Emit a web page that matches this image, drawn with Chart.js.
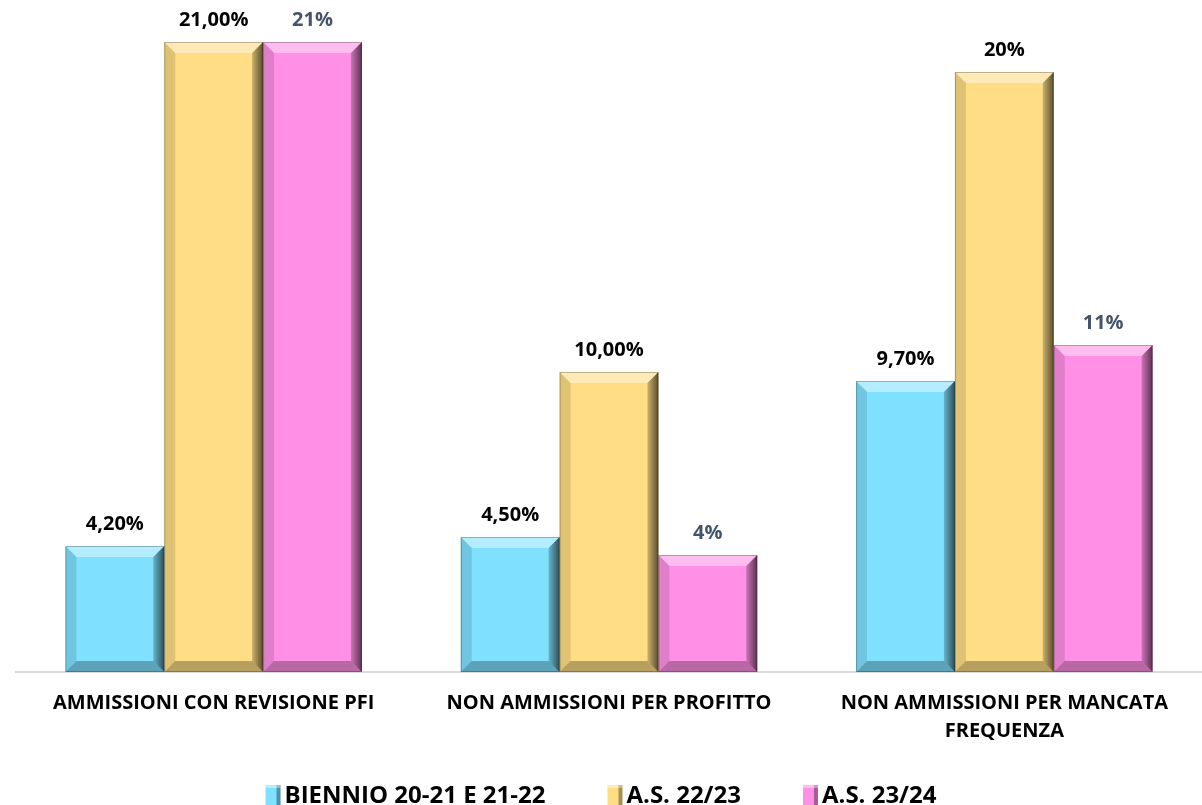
<!DOCTYPE html>
<html>
<head>
<meta charset="utf-8">
<script src="https://cdn.jsdelivr.net/npm/chart.js@4/dist/chart.umd.min.js"></script>
<style>
  body { margin: 0; background: #fff; }
  canvas { display: block; }
</style>
</head>
<body>
<canvas id="esitiChart" width="1202" height="805"></canvas>
<script>
// data
const categories = [
    'AMMISSIONI CON REVISIONE PFI',
    'NON AMMISSIONI PER PROFITTO',
    ['NON AMMISSIONI PER MANCATA', 'FREQUENZA']
];
const seriesNames = ['BIENNIO 20-21 E 21-22', 'A.S. 22/23', 'A.S. 23/24'];
const biennio = [4.2, 4.5, 9.7];
const as2223 = [21, 10, 20];
const as2324 = [21, 3.9, 10.9];
// the labels as printed on the original
const biennioLabels = ['4,20%', '4,50%', '9,70%'];
const as2223Labels = ['21,00%', '10,00%', '20%'];
const as2324Labels = ['21%', '4%', '11%'];

const faceColors = ['#80E1FF', '#FEDD85', '#FF90E5'];
const labelColors = ['#000000', '#000000', '#44546A'];
const fontFamily = '"Open Sans", "Liberation Sans", sans-serif';

// fake excel-ish bevel on each bar
const bevelPlugin = {
    id: 'bevel',
    afterDatasetsDraw(chart) {
        const ctx = chart.ctx;
        chart.data.datasets.forEach((ds, di) => {
            chart.getDatasetMeta(di).data.forEach(bar => {
                const L = bar.x - bar.width / 2, R = bar.x + bar.width / 2;
                const T = bar.y, B = bar.base;
                const b = 11;
                ctx.save();
                // top
                ctx.fillStyle = 'rgba(255,255,255,0.4)';
                ctx.beginPath();
                ctx.moveTo(L, T); ctx.lineTo(R, T); ctx.lineTo(R - b, T + b); ctx.lineTo(L + b, T + b);
                ctx.closePath(); ctx.fill();
                // left
                ctx.fillStyle = 'rgba(0,0,0,0.12)';
                ctx.beginPath();
                ctx.moveTo(L, T); ctx.lineTo(L + b, T + b); ctx.lineTo(L + b, B - b); ctx.lineTo(L, B);
                ctx.closePath(); ctx.fill();
                // bottom
                ctx.fillStyle = 'rgba(0,0,0,0.28)';
                ctx.beginPath();
                ctx.moveTo(L, B); ctx.lineTo(R, B); ctx.lineTo(R - b, B - b); ctx.lineTo(L + b, B - b);
                ctx.closePath(); ctx.fill();
                // right
                const g = ctx.createLinearGradient(R - b, 0, R, 0);
                g.addColorStop(0, 'rgba(0,0,0,0.2)');
                g.addColorStop(1, 'rgba(0,0,0,0.65)');
                ctx.fillStyle = g;
                ctx.beginPath();
                ctx.moveTo(R, T); ctx.lineTo(R, B); ctx.lineTo(R - b, B - b); ctx.lineTo(R - b, T + b);
                ctx.closePath(); ctx.fill();
                ctx.strokeStyle = 'rgba(0,0,0,0.25)';
                ctx.lineWidth = 1;
                ctx.strokeRect(L + 0.5, T + 0.5, R - L - 1, B - T - 1);
                ctx.restore();
            });
        });
    }
};

// value labels above the bars
const valueLabels = {
    id: 'valueLabels',
    afterDraw(chart) {
        const ctx = chart.ctx;
        const texts = [biennioLabels, as2223Labels, as2324Labels];
        ctx.save();
        ctx.font = 'bold 20px ' + fontFamily;
        ctx.textAlign = 'center';
        ctx.textBaseline = 'middle';
        chart.data.datasets.forEach((ds, di) => {
            ctx.fillStyle = labelColors[di];
            chart.getDatasetMeta(di).data.forEach((bar, i) => {
                ctx.fillText(texts[di][i], bar.x, bar.y - 22);
            });
        });
        ctx.restore();
    }
};

// legend drawn by hand at the bottom
const bottomLegend = {
    id: 'bottomLegend',
    afterDraw(chart) {
        const ctx = chart.ctx;
        ctx.save();
        ctx.font = 'bold 24px ' + fontFamily;
        ctx.textBaseline = 'middle';
        const y = 795;
        const gap = 62;
        const box = 15;
        const widths = seriesNames.map(n => box + 4 + ctx.measureText(n).width);
        const total = widths.reduce((a, b) => a + b, 0) + gap * (seriesNames.length - 1);
        let x = (chart.width - total) / 2;
        seriesNames.forEach((name, i) => {
            ctx.fillStyle = faceColors[i];
            ctx.fillRect(x, y - 10, box, 20);
            ctx.fillStyle = 'rgba(0,0,0,0.35)';
            ctx.fillRect(x + box - 4, y - 10, 4, 20);
            ctx.fillStyle = 'rgba(255,255,255,0.4)';
            ctx.fillRect(x, y - 10, box, 3);
            ctx.fillStyle = '#000';
            ctx.fillText(name, x + box + 4, y + 1);
            x += widths[i] + gap;
        });
        ctx.restore();
    }
};

const dataSets = [biennio, as2223, as2324].map((vals, i) => ({
    label: seriesNames[i],
    data: vals,
    backgroundColor: faceColors[i],
    borderWidth: 0,
    categoryPercentage: 0.75,
    barPercentage: 1.0
}));

new Chart(document.getElementById('esitiChart'), {
    type: 'bar',
    data: { labels: categories, datasets: dataSets },
    options: {
        responsive: false,
        animation: false,
        layout: { padding: { left: 16, right: 0, top: 0, bottom: 0 } },
        plugins: {
            legend: { display: false },
            tooltip: { enabled: false }
        },
        scales: {
            y: {
                display: false,
                min: 0,
                max: 22.4
            },
            x: {
                grid: { display: false, drawTicks: false },
                border: { color: '#D9D9D9', width: 2 },
                ticks: {
                    color: '#000',
                    padding: 17,
                    maxRotation: 0,
                    autoSkip: false,
                    font: { family: fontFamily, size: 20, weight: 'bold', lineHeight: 1.4 }
                },
                afterFit(scale) { scale.height = 133; }
            }
        }
    },
    plugins: [bevelPlugin, valueLabels, bottomLegend]
});
</script>
</body>
</html>
